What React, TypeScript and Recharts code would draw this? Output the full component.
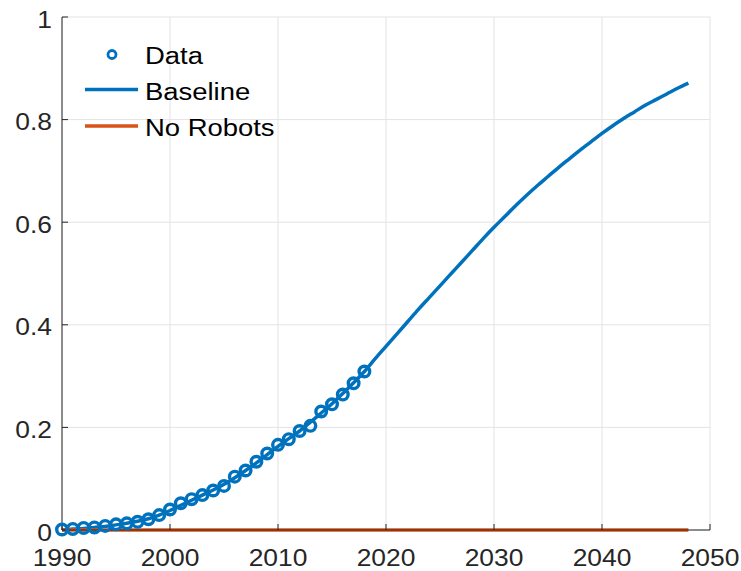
import { ComposedChart, Line, XAxis, YAxis, CartesianGrid } from "recharts";

// years on the x axis
const years = Array.from({ length: 59 }, (_, i) => 1990 + i);

// observed data, 1990-2018
const observed = [
  0.001, 0.002, 0.004, 0.005, 0.008, 0.011, 0.013, 0.016, 0.021, 0.029,
  0.04, 0.052, 0.06, 0.068, 0.077, 0.086, 0.104, 0.116, 0.133, 0.149,
  0.166, 0.177, 0.193, 0.203, 0.231, 0.245, 0.264, 0.286, 0.309,
];

// fitted baseline, 1990-2048
const baseline = [
  0.0, 0.002, 0.003, 0.005, 0.007, 0.01, 0.013, 0.017, 0.022, 0.029,
  0.038, 0.048, 0.058, 0.068, 0.078, 0.089, 0.102, 0.116, 0.131, 0.147,
  0.163, 0.178, 0.193, 0.21, 0.228, 0.246, 0.266, 0.287, 0.309, 0.334,
  0.358, 0.382, 0.406, 0.43, 0.453, 0.476, 0.499, 0.522, 0.545, 0.568,
  0.59, 0.611, 0.632, 0.652, 0.671, 0.689, 0.707, 0.724, 0.741, 0.757,
  0.773, 0.788, 0.802, 0.815, 0.828, 0.839, 0.85, 0.861, 0.871,
];

// scenario without robots
const noRobots = years.map(() => 0);

const xTicks = [1990, 2000, 2010, 2020, 2030, 2040, 2050];
const yTicks = [0, 0.2, 0.4, 0.6, 0.8, 1];

const legendNames = ["Data", "Baseline", "No Robots"];

const BLUE = "#0072BD";
const ORANGE = "#D95319";
const INK = "#262626";
const FONT = "'Liberation Sans', Arial, Helvetica, sans-serif";

const rows = years.map((year, i) => ({
  year,
  data: i < observed.length ? observed[i] : null,
  baseline: baseline[i],
  noRobots: noRobots[i],
}));

// MATLAB text looks a bit wider than Arial, so stretch it slightly
function StretchText({ x, y, anchor, size, children }: any) {
  return (
    <g transform={`translate(${x},${y}) scale(1.1,1)`}>
      <text x={0} y={0} textAnchor={anchor} fontSize={size} fontFamily={FONT} fill={INK}>
        {children}
      </text>
    </g>
  );
}

function XTick({ payload }: any) {
  return (
    <StretchText x={payload.coordinate} y={565.5} anchor="middle" size={24}>
      {payload.value}
    </StretchText>
  );
}

function YTick({ payload }: any) {
  return (
    <StretchText x={52} y={payload.coordinate + 10.5} anchor="end" size={24}>
      {payload.value}
    </StretchText>
  );
}

function LegendOverlay() {
  const markers = [
    <circle key="m" cx={112} cy={54.5} r={4} fill="none" stroke={BLUE} strokeWidth={2.8} />,
    <line key="b" x1={85} y1={89.5} x2={138} y2={89.5} stroke={BLUE} strokeWidth={3.5} />,
    <line key="n" x1={85} y1={126} x2={138} y2={126} stroke={ORANGE} strokeWidth={3.5} />,
  ];
  return (
    <svg width={741} height={571} style={{ position: "absolute", left: 0, top: 0, pointerEvents: "none" }}>
      {markers}
      {legendNames.map((name, i) => (
        <g key={name} transform={`translate(145,${63.5 + i * 36}) scale(1.12,1)`}>
          <text x={0} y={0} fontSize={24.5} fontFamily={FONT} fill="#000">
            {name}
          </text>
        </g>
      ))}
    </svg>
  );
}

export default function App() {
  return (
    <div style={{ position: "relative", width: 741, height: 571, background: "#fff" }}>
      <style>{"body{margin:0}"}</style>
      <ComposedChart
        width={741}
        height={571}
        data={rows}
        margin={{ top: 17, right: 31, left: 0, bottom: 0 }}
      >
        <CartesianGrid stroke="#e3e3e3" strokeWidth={1} />
        <XAxis
          dataKey="year"
          type="number"
          domain={[1990, 2050]}
          ticks={xTicks}
          height={41}
          tick={<XTick />}
          tickSize={-6}
          axisLine={{ stroke: INK, strokeWidth: 1 }}
          tickLine={{ stroke: INK }}
          interval={0}
        />
        <YAxis
          type="number"
          domain={[0, 1]}
          ticks={yTicks}
          width={62}
          tick={<YTick />}
          tickSize={-6}
          axisLine={{ stroke: INK, strokeWidth: 1 }}
          tickLine={{ stroke: INK }}
          interval={0}
        />
        <Line
          dataKey="data"
          stroke="none"
          dot={{ r: 5.3, fill: "none", stroke: BLUE, strokeWidth: 3.4 }}
          activeDot={false}
          connectNulls={false}
          isAnimationActive={false}
        />
        <Line
          dataKey="baseline"
          type="monotone"
          stroke={BLUE}
          strokeWidth={3.5}
          dot={false}
          isAnimationActive={false}
        />
        <Line
          dataKey="noRobots"
          type="linear"
          stroke={ORANGE}
          strokeWidth={3.5}
          dot={false}
          isAnimationActive={false}
        />
      </ComposedChart>
      <LegendOverlay />
    </div>
  );
}
